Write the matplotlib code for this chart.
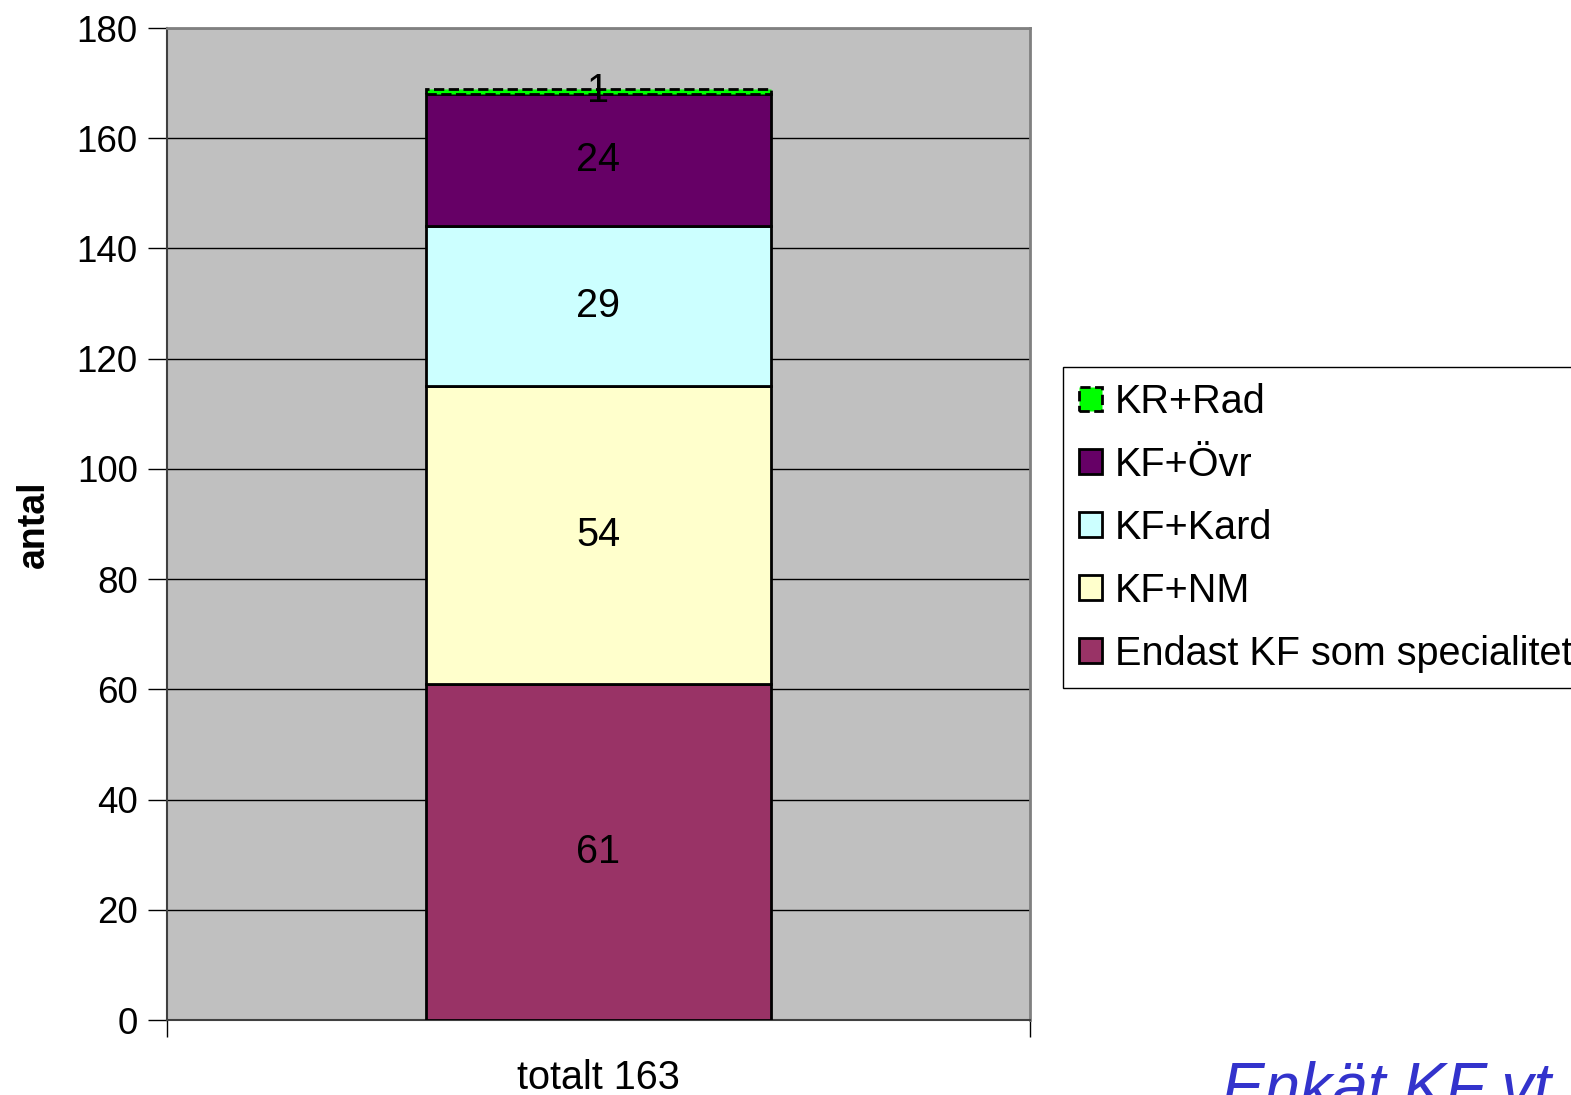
#!/usr/bin/env python3
"""Stacked bar: specialities among respondents (Enkät KF vt)."""

import matplotlib
matplotlib.use("Agg")
import matplotlib.pyplot as plt
from matplotlib.patches import Patch

plt.rcParams["font.family"] = ["Liberation Sans", "DejaVu Sans"]

CATEGORY = ["totalt 163"]
SERIES = ["Endast KF som specialitet", "KF+NM", "KF+Kard", "KF+Övr", "KR+Rad"]
VALUES = [61, 54, 29, 24, 1]
COLORS = ["#993366", "#FFFFCC", "#CCFFFF", "#660066", "#00FF00"]
Y_TICKS = list(range(0, 181, 20))

FS = 28.5
W, H = 1571, 1095
fig = plt.figure(figsize=(W / 100, H / 100), dpi=100, facecolor="white")
ax = fig.add_axes([167 / W, 1 - 1020 / H, (1030 - 167) / W, (1020 - 28) / H])
ax.set_facecolor("#C0C0C0")

bottom = 0
for name, val, col in zip(SERIES, VALUES, COLORS):
    dashed = name == "KR+Rad"
    ax.bar(0, val, bottom=bottom, width=0.4, color=col, edgecolor="black",
           linewidth=2, linestyle="--" if dashed else "-", zorder=3)
    ax.text(0, bottom + val / 2, str(val), ha="center", va="center",
            fontsize=FS, color="black", zorder=4)
    bottom += val

ax.set_xlim(-0.5, 0.5)
ax.set_ylim(0, 180)
ax.set_yticks(Y_TICKS)
ax.tick_params(axis="y", labelsize=26.5, length=14, width=1, direction="out", pad=7)
ax.set_xticks([0])
ax.set_xticklabels(CATEGORY, fontsize=FS)
ax.tick_params(axis="x", length=0, pad=28)
ax.set_xticks([-0.5, 0.5], minor=True)
ax.tick_params(axis="x", which="minor", length=12, width=1, direction="out")
ax.grid(axis="y", color="black", linewidth=1, zorder=1)
ax.set_axisbelow(True)
for s in ("top", "right"):
    ax.spines[s].set_color("#808080")
    ax.spines[s].set_linewidth(2)
ax.spines["left"].set_color("#404040")
ax.spines["bottom"].set_color("#404040")
ax.spines["left"].set_linewidth(1.5)
ax.spines["bottom"].set_linewidth(1.5)

ax.set_ylabel("antal", fontsize=27, fontweight="bold", labelpad=18)

handles = [
    Patch(facecolor=c, edgecolor="black", linewidth=2,
          linestyle="--" if n == "KR+Rad" else "-", label=n)
    for n, c in zip(SERIES, COLORS)
][::-1]
leg = fig.legend(
    handles=handles,
    loc="upper left",
    bbox_to_anchor=(1063 / W, 1 - 367 / H),
    fontsize=FS,
    frameon=True,
    fancybox=False,
    edgecolor="black",
    framealpha=1,
    handlelength=0.58,
    handleheight=0.58,
    handletextpad=0.33,
    labelspacing=0.63,
    borderpad=0.4,
    borderaxespad=0,
)
leg.get_frame().set_linewidth(1)

fig.text(1222 / W, -13 / H, "Enkät KF vt", fontsize=46, style="italic",
         color="#3333CC", ha="left", va="baseline")

fig.savefig("out.png", dpi=100)
